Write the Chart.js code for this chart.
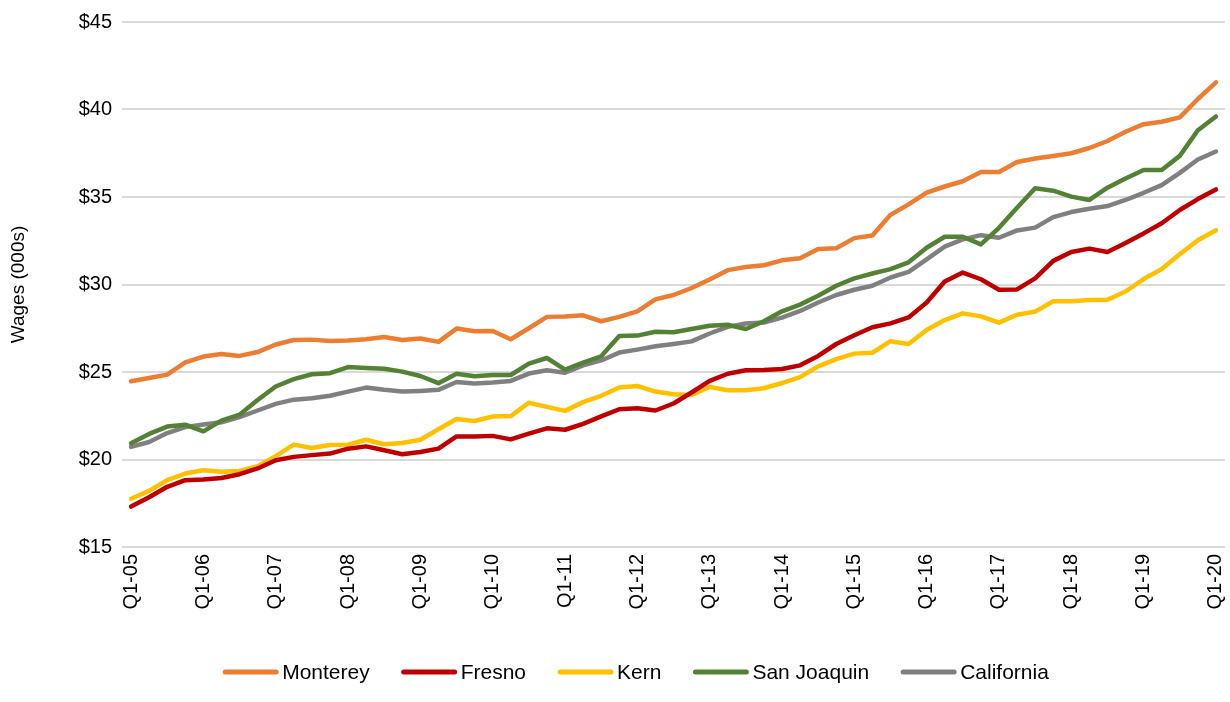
<!DOCTYPE html>
<html>
<head>
<meta charset="utf-8">
<script src="https://cdn.jsdelivr.net/npm/chart.js@4/dist/chart.umd.min.js"></script>
<style>
  html, body { margin: 0; padding: 0; background: #fff; }
  #wrap { width: 1230px; height: 702px; }
</style>
</head>
<body>
<div id="wrap"><canvas id="chartWages" width="1230" height="702"></canvas></div>
<script>
// quarters Q1-05 .. Q1-20
const years = ['05', '06', '07', '08', '09', '10', '11', '12', '13', '14', '15', '16', '17', '18', '19', '20'];
const quarters = [];
years.forEach(function (y) {
    for (let q = 1; q <= 4; q++) {
        if (y === '20' && q > 1) break;
        quarters.push('Q' + q + '-' + y);
    }
});

const yTicks = [15, 20, 25, 30, 35, 40, 45];

const monterey = [24.47, 24.66, 24.85, 25.55, 25.88, 26.03, 25.92, 26.14, 26.57, 26.83, 26.85,
    26.77, 26.8, 26.87, 27.0, 26.83, 26.91, 26.72, 27.48, 27.33, 27.34,
    26.87, 27.5, 28.15, 28.17, 28.24, 27.9, 28.15, 28.47, 29.15, 29.4,
    29.8, 30.29, 30.82, 31.0, 31.1, 31.38, 31.5, 32.03, 32.07, 32.65,
    32.8, 33.98, 34.58, 35.25, 35.6, 35.9, 36.43, 36.43, 37.0, 37.2,
    37.34, 37.5, 37.8, 38.2, 38.73, 39.16, 39.3, 39.55, 40.6, 41.55];

const fresno = [17.31, 17.84, 18.44, 18.82, 18.86, 18.94, 19.16, 19.49, 19.96, 20.15, 20.25,
    20.34, 20.62, 20.75, 20.53, 20.3, 20.43, 20.62, 21.32, 21.32, 21.35,
    21.15, 21.48, 21.78, 21.7, 22.04, 22.46, 22.87, 22.93, 22.8, 23.2,
    23.83, 24.49, 24.9, 25.1, 25.11, 25.17, 25.38, 25.92, 26.6, 27.1,
    27.56, 27.78, 28.12, 28.97, 30.17, 30.68, 30.3, 29.7, 29.72, 30.35,
    31.35, 31.86, 32.05, 31.86, 32.37, 32.92, 33.5, 34.26, 34.88, 35.43];

const kern = [17.76, 18.21, 18.82, 19.2, 19.39, 19.3, 19.35, 19.62, 20.19, 20.85, 20.66,
    20.83, 20.85, 21.13, 20.87, 20.94, 21.13, 21.73, 22.31, 22.2, 22.46,
    22.48, 23.24, 23.01, 22.78, 23.28, 23.64, 24.11, 24.2, 23.88, 23.73,
    23.69, 24.15, 23.96, 23.96, 24.07, 24.37, 24.71, 25.32, 25.74, 26.05,
    26.1, 26.76, 26.6, 27.4, 27.97, 28.35, 28.18, 27.82, 28.27, 28.45,
    29.04, 29.04, 29.11, 29.13, 29.6, 30.31, 30.88, 31.73, 32.53, 33.1];

const sanJoaquin = [20.93, 21.46, 21.88, 21.99, 21.61, 22.22, 22.56, 23.4, 24.17, 24.59, 24.87,
    24.93, 25.28, 25.23, 25.19, 25.02, 24.77, 24.36, 24.9, 24.76, 24.83,
    24.83, 25.48, 25.8, 25.14, 25.53, 25.9, 27.06, 27.08, 27.3, 27.27,
    27.46, 27.64, 27.7, 27.46, 27.9, 28.47, 28.85, 29.36, 29.93, 30.35,
    30.63, 30.88, 31.27, 32.1, 32.73, 32.73, 32.29, 33.24, 34.38, 35.5,
    35.36, 35.02, 34.83, 35.53, 36.06, 36.54, 36.54, 37.35, 38.81, 39.6];

const california = [20.72, 21.0, 21.51, 21.85, 22.0, 22.13, 22.42, 22.8, 23.18, 23.42, 23.5,
    23.64, 23.88, 24.11, 23.98, 23.88, 23.92, 23.98, 24.43, 24.34, 24.4,
    24.49, 24.91, 25.1, 24.96, 25.38, 25.66, 26.11, 26.28, 26.47, 26.6,
    26.75, 27.2, 27.58, 27.77, 27.83, 28.11, 28.49, 28.97, 29.4, 29.7,
    29.93, 30.4, 30.72, 31.44, 32.16, 32.58, 32.82, 32.67, 33.09, 33.25,
    33.85, 34.14, 34.33, 34.48, 34.83, 35.24, 35.68, 36.38, 37.14, 37.6];

const FONT = '"Liberation Sans", Arial, sans-serif';
Chart.defaults.font.family = FONT;
Chart.defaults.color = '#000';

function series(label, data, color) {
    return {
        label: label,
        data: data,
        borderColor: color,
        backgroundColor: color,
        borderWidth: 4.5,
        borderCapStyle: 'round',
        borderJoinStyle: 'round',
        pointRadius: 0,
        tension: 0,
        fill: false
    };
}

// legend drawn by hand: short line, small gap, label (Excel style)
const bottomLegend = {
    id: 'bottomLegend',
    afterDraw(chart) {
        const ctx = chart.ctx;
        const sets = chart.data.datasets;
        const lineW = 55, gap = 4, space = 32, cy = 672;
        ctx.save();
        ctx.font = '21px ' + FONT;
        let total = 0;
        sets.forEach(function (ds, i) {
            total += lineW + gap + ctx.measureText(ds.label).width + (i < sets.length - 1 ? space : 0);
        });
        let x = 636 - total / 2;
        sets.forEach(function (ds) {
            ctx.strokeStyle = ds.borderColor;
            ctx.lineWidth = 5;
            ctx.lineCap = 'round';
            ctx.beginPath();
            ctx.moveTo(x + 2, cy);
            ctx.lineTo(x + lineW - 2, cy);
            ctx.stroke();
            x += lineW + gap;
            ctx.fillStyle = '#000';
            ctx.textBaseline = 'middle';
            ctx.fillText(ds.label, x, cy + 1);
            x += ctx.measureText(ds.label).width + space;
        });
        ctx.restore();
    }
};

new Chart(document.getElementById('chartWages'), {
    type: 'line',
    data: {
        labels: quarters,
        datasets: [
            series('Monterey', monterey, '#ED7D31'),
            series('Fresno', fresno, '#C00000'),
            series('Kern', kern, '#FFC000'),
            series('San Joaquin', sanJoaquin, '#548235'),
            series('California', california, '#808080')
        ]
    },
    plugins: [bottomLegend],
    options: {
        responsive: false,
        animation: false,
        layout: { padding: { top: 20, right: 5, bottom: 50, left: 0 } },
        plugins: {
            tooltip: { enabled: false },
            legend: { display: false }
        },
        scales: {
            x: {
                offset: true,
                grid: { display: false, drawTicks: false },
                border: { display: false },
                ticks: {
                    autoSkip: false,
                    minRotation: 90,
                    maxRotation: 90,
                    padding: 7,
                    font: { size: 20 },
                    callback: function (v, i) { return i % 4 === 0 ? quarters[i] : ''; }
                },
                afterFit: function (scale) {
                    scale.height = 105;
                    scale.paddingLeft = 0;
                    scale.paddingRight = 0;
                }
            },
            y: {
                min: 15,
                max: 45,
                afterBuildTicks: function (scale) {
                    scale.ticks = yTicks.map(function (v) { return { value: v }; });
                },
                grid: { color: '#d9d9d9', lineWidth: 2, drawTicks: false },
                border: { display: false },
                ticks: {
                    padding: 10,
                    font: { size: 20 },
                    callback: function (v) { return '$' + v; }
                },
                title: {
                    display: true,
                    text: 'Wages (000s)',
                    font: { size: 19 },
                    padding: { top: 7, bottom: 0 }
                },
                afterFit: function (scale) { scale.width = 122; }
            }
        }
    }
});
</script>
</body>
</html>
